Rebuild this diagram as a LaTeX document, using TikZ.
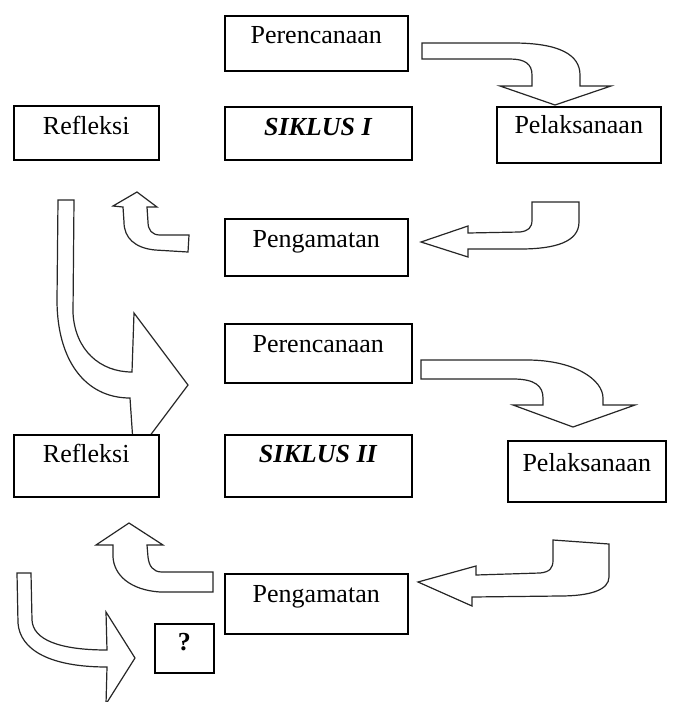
\documentclass[tikz,border=0pt]{standalone}
\usepackage{fontspec}
\setmainfont{Liberation Serif}
\begin{document}
\begin{tikzpicture}[x=1pt, y=-1pt,
        kotak/.style={draw, line width=1.5pt, fill=white, inner sep=0pt, anchor=north west, font=\fontsize{26}{30}\selectfont},
        panah/.style={draw=black!85, line width=1.2pt, fill=white, line join=miter}]
        \useasboundingbox (0,0) rectangle (677,702);
        % siklus I
        \draw[panah] (422,43) -- (513,43) .. controls (560,43) and (580,55) .. (580,75) -- (580,86) -- (611,86) -- (555,105) -- (500,86) -- (532,86) -- (532,75) .. controls (532,64) and (525,59) .. (510,59) -- (422,59) -- cycle;
        \draw[panah] (421,242) -- (468,226) -- (468,233) -- (520,232) .. controls (528,231) and (532,228) .. (532,220) -- (532,202) -- (579,202) -- (579,222) .. controls (579,242) and (555,249) .. (520,249) -- (468,249) -- (468,257) -- cycle;
        \draw[panah] (137,192) -- (157,207) -- (147,207) -- (148,222) .. controls (148,230) and (152,235) .. (160,235) -- (189,235) -- (188,252) -- (155,250) .. controls (135,248) and (124,238) .. (124,222) -- (123,207) -- (113,206) -- cycle;
        \draw[panah] (58,200) -- (74,200) -- (73,313) .. controls (75,350) and (100,372) .. (132,372) -- (134,313) -- (188,385) -- (134,457) -- (130,398) .. controls (85,398) and (57,360) .. (57,300) -- cycle;
        % siklus II
        \draw[panah] (421,360) -- (527,360) .. controls (575,360) and (603,380) .. (603,398) -- (603,405) -- (635,405) -- (573,427) -- (513,405) -- (543,405) -- (543,398) .. controls (543,386) and (535,379) .. (513,379) -- (421,379) -- cycle;
        \draw[panah] (418,582) -- (476,566) -- (476,575) -- (540,573) .. controls (550,572) and (553,568) .. (553,560) -- (553,540) -- (609,544) -- (609,577) .. controls (609,590) and (590,596) .. (560,596) -- (472,597) -- (472,606) -- cycle;
        \draw[panah] (129,523) -- (163,545) -- (147,545) -- (148,557) .. controls (149,566) and (153,572) .. (162,572) -- (213,572) -- (213,592) -- (160,592) .. controls (130,590) and (114,575) .. (113,557) -- (113,545) -- (96,545) -- cycle;
        \draw[panah] (17,573) -- (31,573) -- (32,620) .. controls (33,640) and (60,650) .. (107,650) -- (106,612) -- (135,658) -- (106,704) -- (107,667) .. controls (50,667) and (20,650) .. (18,623) -- cycle;
        % kotak
        \node[kotak, minimum width=183pt, text height=28pt, text depth=27pt] (rencana1) at (224,15) {Perencanaan};
        \node[kotak, minimum width=145pt, text height=29pt, text depth=25pt] (refleksi1) at (13,105) {Refleksi};
        \node[kotak, minimum width=187pt, text height=29pt, text depth=24pt] (siklus1) at (224,106) {\textbf{\textit{SIKLUS I}}};
        \node[kotak, minimum width=164pt, text height=27pt, text depth=29pt] (laksana1) at (496,106) {Pelaksanaan};
        \node[kotak, minimum width=183pt, text height=29pt, text depth=28pt] (amat1) at (224,218) {Pengamatan};
        \node[kotak, minimum width=187pt, text height=29pt, text depth=30pt] (rencana2) at (224,323) {Perencanaan};
        \node[kotak, minimum width=145pt, text height=28pt, text depth=34pt] (refleksi2) at (13,434) {Refleksi};
        \node[kotak, minimum width=187pt, text height=28pt, text depth=34pt] (siklus2) at (224,434) {\textbf{\textit{SIKLUS II}}};
        \node[kotak, minimum width=158pt, text height=31pt, text depth=30pt] (laksana2) at (507,440) {Pelaksanaan};
        \node[kotak, minimum width=183pt, text height=29pt, text depth=31pt] (amat2) at (224,573) {Pengamatan};
        \node[kotak, minimum width=59pt, text height=27pt, text depth=22pt] (tanya) at (154,623) {\textbf{?}};
\end{tikzpicture}
\end{document}
